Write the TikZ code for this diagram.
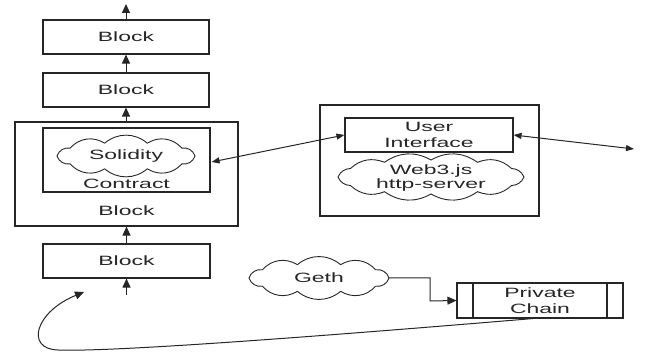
\documentclass[tikz,border=0pt]{standalone}
\usepackage{fontspec}
\setmainfont{Liberation Sans}[FakeStretch=1.7]
\usetikzlibrary{arrows.meta,calc}
\newcommand\puffcloud[5]{% node name, rx, ry, puffs, bend
  \draw[cloudline] ($(#1)+(#2,0)$)
    \foreach \k in {1,...,#4}{ to[bend left=#5] ($(#1)+({#2*cos(360*\k/#4)},{#3*sin(360*\k/#4)})$) } -- cycle;}
\begin{document}
\begin{tikzpicture}[x=1pt,y=-1pt,
  every node/.style={font=\fontsize{13.5}{16}\selectfont, text=black!85},
  box/.style={draw=black!85, line width=1.1pt, rectangle, inner sep=0pt},
  cloudline/.style={draw=black!85, line width=0.9pt},
  link/.style={draw=black!85, line width=1pt},
  tip/.style={-{Triangle[length=9pt,width=8pt]}},
  dtip/.style={{Triangle[length=8pt,width=6pt]}-{Triangle[length=8pt,width=6pt]}}
]
\useasboundingbox (0,0) rectangle (649,352);
% chain stack
\node[box, minimum width=166pt, minimum height=34pt] (b1) at (126,37) {Block};
\node[box, minimum width=166pt, minimum height=34pt] (b2) at (126,90) {Block};
\node[box, minimum width=223pt, minimum height=104pt] (big) at (126.5,174) {};
\node[box, minimum width=167pt, minimum height=64pt] (contract) at (126.5,160) {};
\coordinate (solc) at (126,156);
\node (solidity) at (126,156) {Solidity};
\puffcloud{solc}{69}{13.5}{10}{40}
\node (contractlbl) at (126.5,184) {Contract};
\node (biglbl) at (126.5,211) {Block};
\node[box, minimum width=167pt, minimum height=34pt] (b3) at (126.5,261) {Block};
\coordinate (top) at (126,4);
\coordinate (below) at (126.5,295);
\draw[link,tip] (b1.north) -- (top);
\draw[link,tip] (b2.north) -- (b1.south);
\draw[link,tip] (big.north -| b2.south) -- (b2.south);
\draw[link,tip] (b3.north) -- (b3.north |- big.south);
\draw[link,tip] (below) -- (b3.south);
% server
\node[box, minimum width=219pt, minimum height=111pt] (server) at (429.5,160.5) {};
\node[box, minimum width=168pt, minimum height=34pt, align=center] (ui) at (429,135) {User\\Interface};
\coordinate (webc) at (431,177);
\node[align=center, font=\fontsize{13.5}{14}\selectfont] (web3) at (431,178.5) {Web3.js\\http-server};
\puffcloud{webc}{93}{17}{12}{32}
\draw[link,dtip] ($(contract.east)+(1,2)$) -- (ui.west);
\coordinate (rightend) at (634,149);
\draw[link,dtip] (ui.east) -- (rightend);
% geth and private chain
\coordinate (gethc) at (319,278);
\node (geth) at (319,278) {Geth};
\puffcloud{gethc}{70}{14}{10}{40}
\node[box, minimum width=166pt, minimum height=35pt, align=center] (pc) at (540,300.5) {Private\\Chain};
\draw[line width=1.1pt, draw=black!85] (473,283) -- (473,318) (607,283) -- (607,318);
\coordinate (gethout) at (389,278);
\draw[link,tip] (gethout) -- (430,278) -- (430,301) -- (pc.west);
\coordinate (tgt) at (84,292);
\draw[link,tip] ($(pc.south)+(-7,0)$) .. controls (300,338) and (110,352) .. (58,350)
  .. controls (25,349) and (35,312) .. (tgt);
\end{tikzpicture}
\end{document}
